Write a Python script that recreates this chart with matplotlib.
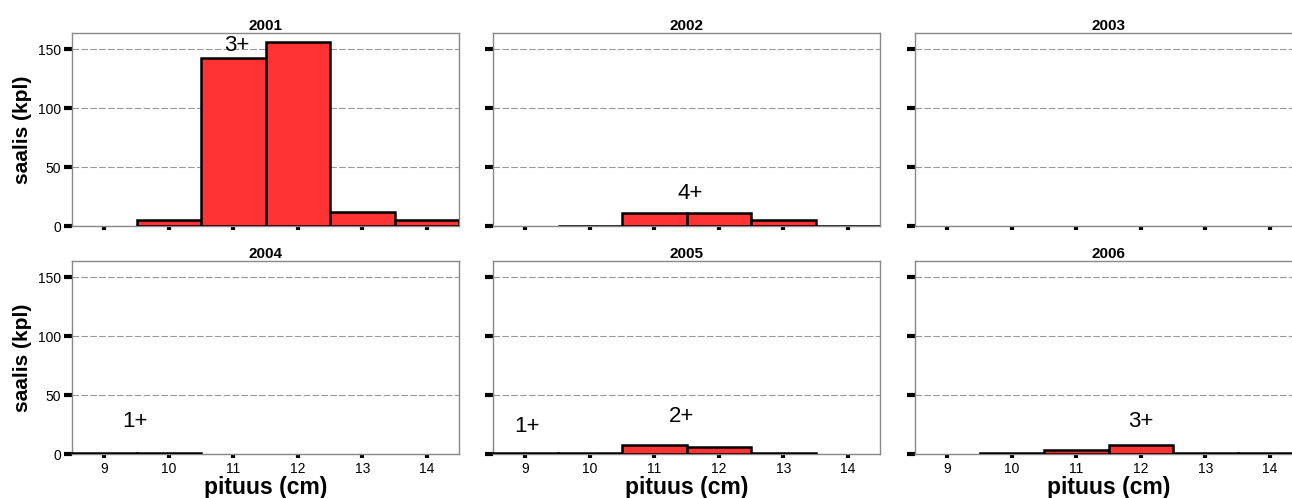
import matplotlib
matplotlib.use('Agg')
import matplotlib.pyplot as plt
import numpy as np

plt.rcParams['font.family'] = ['Liberation Sans', 'DejaVu Sans']

# pituusluokat (cm)
lengths = [9, 10, 11, 12, 13, 14]
years = ['2001', '2002', '2003', '2004', '2005', '2006']

# saalis (kpl) per pituusluokka, None = ei palkkia
catch_2001 = [None, 5, 143, 156, 12, 5]
catch_2002 = [None, 0.4, 11, 11, 5, 0.4]
catch_2003 = [None, None, None, None, None, None]
catch_2004 = [1, 1, None, None, None, None]
catch_2005 = [1, 1, 8, 6, 1, None]
catch_2006 = [None, 1, 3.5, 8, 1, 1]
catches = [catch_2001, catch_2002, catch_2003, catch_2004, catch_2005, catch_2006]

# ikäryhmämerkinnät: (vuosi, teksti, x, y)
age_labels = [
    ('2001', '3+', 11.05, 153),
    ('2002', '4+', 11.55, 28),
    ('2004', '1+', 9.48, 28),
    ('2005', '1+', 9.02, 23),
    ('2005', '2+', 11.43, 32),
    ('2006', '3+', 12.0, 28),
]

W, H = 1292, 498
fig = plt.figure(figsize=(W / 100, H / 100), dpi=100)

lefts = [72, 493, 915]
tops = [33, 261]
aw, ah = 387, 193

axes = []
for r in range(2):
    for c in range(3):
        ax = fig.add_axes([lefts[c] / W, 1 - (tops[r] + ah) / H, aw / W, ah / H])
        axes.append(ax)

for i, ax in enumerate(axes):
    vals = catches[i]
    xs = [x for x, v in zip(lengths, vals) if v is not None]
    hs = [v for v in vals if v is not None]
    ax.set_axisbelow(True)
    ax.yaxis.grid(True, linestyle=(0, (6, 2)), color='#999999', linewidth=0.8)
    if xs:
        ax.bar(xs, hs, width=1.0, color='#FF3333', edgecolor='black', linewidth=1.8, zorder=3)
    ax.set_xlim(8.5, 14.5)
    ax.set_ylim(0, 164)
    ax.set_xticks(lengths)
    ax.set_yticks([0, 50, 100, 150])
    ax.set_title(years[i], fontsize=11, fontweight='bold', pad=2)
    for s in ax.spines.values():
        s.set_color('#888888')
        s.set_linewidth(1.0)
    ax.tick_params(axis='y', length=6, width=3, color='black', labelsize=10, pad=2)
    ax.tick_params(axis='x', length=3, width=3, color='black', labelsize=10, pad=3)
    row, col = divmod(i, 3)
    if col == 0:
        ax.set_ylabel('saalis (kpl)', fontsize=15, fontweight='bold', labelpad=4)
    else:
        ax.set_yticklabels([])
    if row == 0:
        ax.set_xticklabels([])
    else:
        ax.set_xlabel('pituus (cm)', fontsize=16.5, fontweight='bold', labelpad=0)

for year, txt, x, y in age_labels:
    ax = axes[years.index(year)]
    ax.text(x, y, txt, fontsize=16, ha='center', va='center', zorder=5)

fig.savefig('out.png', dpi=100)
